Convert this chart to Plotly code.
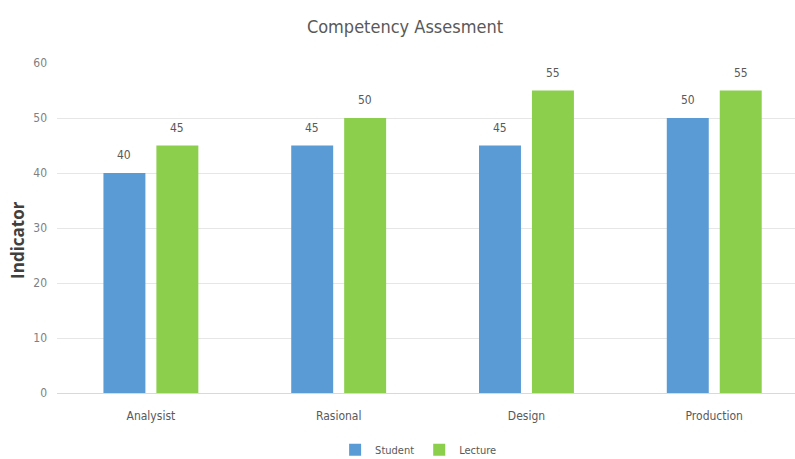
import plotly.graph_objects as go

categories = ["Analysist", "Rasional", "Design", "Production"]
student = [40, 45, 45, 50]
lecture = [45, 50, 55, 55]

FONT = "Liberation Sans Narrow, DejaVu Sans Condensed, Open Sans, sans-serif"
BLUE = "#5B9BD5"
GREEN = "#8CCF4D"

fig = go.Figure()
fig.add_trace(go.Bar(name="Student", x=categories, y=student, marker_color=BLUE,
                     marker_line_width=0))
fig.add_trace(go.Bar(name="Lecture", x=categories, y=lecture, marker_color=GREEN,
                     marker_line_width=0))

# value labels above bars
for vals, shift in ((student, -26.5), (lecture, 26.5)):
    for c, v in zip(categories, vals):
        fig.add_annotation(x=c, y=v, xref="x", yref="y", text=str(v), showarrow=False,
                           xshift=shift, yshift=18, yanchor="middle",
                           font=dict(size=12, color="#595959", family=FONT))

fig.add_annotation(text="<b>Indicator</b>", xref="paper", yref="paper",
                   x=-0.0528, y=0.464, xanchor="center", yanchor="middle",
                   textangle=-90, showarrow=False,
                   font=dict(size=17, color="#404040", family="Open Sans, sans-serif"))

fig.update_layout(
    width=795, height=459,
    margin=dict(l=57, r=0, t=63, b=66, autoexpand=False),
    paper_bgcolor="white", plot_bgcolor="white",
    barmode="group", bargap=0.436, bargroupgap=0.2075,
    title=dict(text="Competency Assesment", x=0.4715, xanchor="center", xref="paper",
               y=0.941, yanchor="middle",
               font=dict(size=18, color="#595959", family=FONT)),
    font=dict(family=FONT, color="#595959"),
    legend=dict(orientation="h", x=0.49, xanchor="center", yref="container", y=0.02,
                yanchor="middle",
                font=dict(size=11, color="#595959"), itemwidth=30, traceorder="normal"),
    showlegend=True,
)
fig.update_xaxes(range=[-0.5, 3.43], showgrid=False, showline=True, linecolor="#D9D9D9",
                 linewidth=1, ticks="", ticklabelstandoff=12,
                 tickfont=dict(size=12, color="#595959"))
fig.update_yaxes(range=[0, 60], dtick=10, showgrid=True, gridcolor="#E6E6E6", gridwidth=1,
                 zeroline=False, showline=False, ticks="", ticklabelstandoff=9,
                 tickfont=dict(size=12, color="#7F7F7F"))

fig.write_html("out.html")
